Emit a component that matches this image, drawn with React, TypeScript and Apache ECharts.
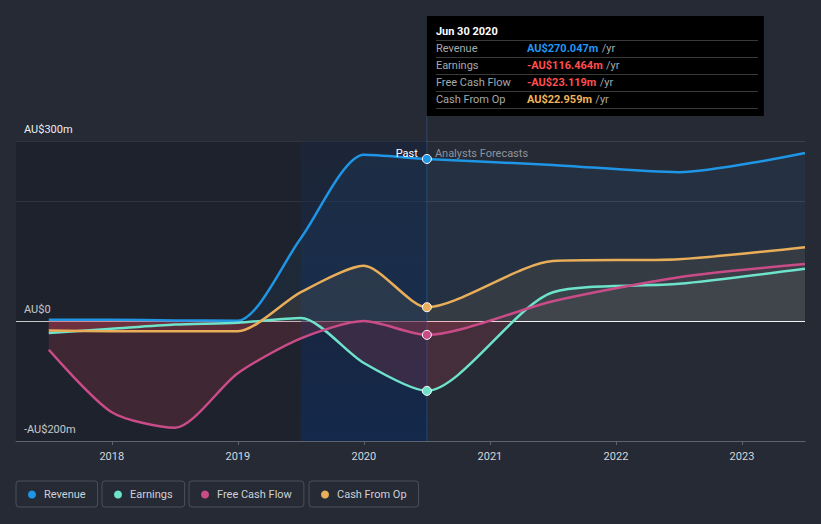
import React, { useEffect, useRef } from 'react';
import * as echarts from 'echarts';

// ---- data ----
const years = [2017.5, 2018, 2018.5, 2019, 2019.5, 2020, 2020.5, 2021.5, 2022.5, 2023.5];
const revenue = [2, 2, 1, 0.5, 138, 277, 270.047, 260, 248, 280];
const earnings = [-20, -13, -6, -3, 5, -70, -116.464, 48, 62, 87];
const freeCashFlow = [-48, -152, -178, -87, -29, 0, -23.119, 33, 73, 95];
const cashFromOp = [-16, -17, -17, -17, 48, 92, 22.959, 100, 103, 123];

const seriesNames = ['Revenue', 'Earnings', 'Free Cash Flow', 'Cash From Op'];
const seriesValues = [revenue, earnings, freeCashFlow, cashFromOp];
const xTickYears = [2018, 2019, 2020, 2021, 2022, 2023];
const yTickLabels = [300, 0, -200];
const tooltipDate = 'Jun 30 2020';
const pastEnd = 2020.5;
const highlightStart = 2019.5;
const xMin = 2017.24;
const xMax = 2023.5;
const yMin = -200;
const yMax = 300;

// ---- styles ----
const lineColors = ['#1f95e6', '#6ee3cb', '#c94c88', '#e9ae5a'];
const posFill = ['rgba(33,150,243,0.09)', 'rgba(110,227,203,0.07)', 'rgba(201,76,136,0.07)', 'rgba(233,174,90,0.12)'];
const negFill = 'rgba(215,66,86,0.25)';
const valueColors = ['#2196f3', '#ff4f4f', '#ff4f4f', '#f0b35a'];
const legendLefts = [16, 102, 189, 309];
const BG = '#252a35';
const W = 821;
const H = 524;
const GRID = { left: 16, right: 16, top: 141, bottom: 83 };
const FONT = 'Roboto, "Open Sans", sans-serif';

const fmtMoney = (v: number, digits = 0) =>
  (v < 0 ? '-' : '') + 'AU$' + (digits ? Math.abs(v).toFixed(digits) : String(Math.abs(v))) + (v === 0 && !digits ? '' : 'm');

export default function App() {
  const ref = useRef<HTMLDivElement>(null);

  useEffect(() => {
    if (!ref.current) return;
    const chart = echarts.init(ref.current, null, { renderer: 'svg' });
    const pastIdx = years.indexOf(pastEnd);
    const gTop = GRID.top;
    const gBot = H - GRID.bottom;
    const zeroFrac = (yMax - 0) / (yMax - yMin);

    const areaGrad = (i: number) => ({
      type: 'linear',
      x: 0,
      y: gTop,
      x2: 0,
      y2: gBot,
      global: true,
      colorStops: [
        { offset: 0, color: posFill[i] },
        { offset: zeroFrac, color: posFill[i] },
        { offset: zeroFrac, color: negFill },
        { offset: 1, color: negFill },
      ],
    });

    const series: any[] = seriesNames.map((name, i) => ({
      name,
      type: 'line',
      smooth: 0.25,
      symbol: 'none',
      showSymbol: true,
      lineStyle: { color: lineColors[i], width: 2.5 },
      itemStyle: { color: lineColors[i] },
      areaStyle: { color: areaGrad(i), origin: 0 },
      emphasis: { disabled: true },
      data: years.map((x, k) =>
        k === pastIdx
          ? {
              value: [x, seriesValues[i][k]],
              symbol: 'circle',
              symbolSize: 9,
              itemStyle: { color: lineColors[i], borderColor: '#ffffff', borderWidth: 1 },
            }
          : [x, seriesValues[i][k]]
      ),
      z: 3,
    }));

    // background bands (past region + highlighted year)
    series[0].markArea = {
      silent: true,
      z: 1,
      data: [
        [
          { xAxis: xMin, itemStyle: { color: 'rgba(0,0,0,0.17)' } },
          { xAxis: highlightStart },
        ],
        [
          {
            xAxis: highlightStart,
            itemStyle: {
              color: {
                type: 'linear',
                x: 0,
                y: 0,
                x2: 0,
                y2: 1,
                colorStops: [
                  { offset: 0, color: 'rgba(18,32,58,0.45)' },
                  { offset: 1, color: 'rgba(12,40,85,0.7)' },
                ],
              },
            },
          },
          { xAxis: pastEnd },
        ],
      ],
    };

    const option: any = {
      animation: false,
      backgroundColor: BG,
      textStyle: { fontFamily: FONT },
      grid: { ...GRID, containLabel: false },
      xAxis: {
        type: 'value',
        min: xMin,
        max: xMax,
        splitLine: { show: false },
        axisLine: { onZero: false, lineStyle: { color: '#5d6470', width: 1 } },
        axisTick: { show: true, customValues: xTickYears, length: 4, lineStyle: { color: '#5d6470' } },
        axisLabel: {
          customValues: xTickYears,
          color: '#d4d7dc',
          fontSize: 11,
          margin: 10,
          formatter: (v: number) => String(v),
        },
      },
      yAxis: {
        type: 'value',
        min: yMin,
        max: yMax,
        interval: 100,
        axisLine: { show: false },
        axisTick: { show: false },
        splitLine: {
          show: true,
          lineStyle: {
            color: ['rgba(0,0,0,0)', 'rgba(0,0,0,0)', '#f2f2f2', 'rgba(0,0,0,0)', '#3a3f4a', '#3a3f4a'],
            width: 1,
          },
        },
        axisLabel: {
          inside: true,
          customValues: yTickLabels,
          margin: 8,
          verticalAlign: 'bottom',
          padding: [0, 0, 6, 0],
          color: '#eceef0',
          fontSize: 11,
          formatter: (v: number) => fmtMoney(v),
        },
      },
      legend: seriesNames.map((name, i) => ({
        data: [name],
        left: legendLefts[i],
        top: 481,
        icon: 'circle',
        itemWidth: 8,
        itemHeight: 8,
        itemGap: 0,
        padding: [8, 12, 7, 12],
        borderColor: '#4a505c',
        borderWidth: 1,
        borderRadius: 3,
        textStyle: { color: '#cdd1d7', fontSize: 11, fontFamily: FONT, padding: [0, 0, 0, 3] },
      })),
      series,
    };

    chart.setOption(option);

    const px = chart.convertToPixel({ xAxisIndex: 0 }, pastEnd) as number;
    const topY = chart.convertToPixel({ yAxisIndex: 0 }, yMax) as number;
    const botY = chart.convertToPixel({ yAxisIndex: 0 }, yMin) as number;
    const tipTop = 16;
    const tipH = 100;
    const rowY = [32, 49, 66, 83];
    const sepY = [24.5, 41.5, 58.5, 75.5, 92.5];

    const tipChildren: any[] = [
      { type: 'rect', shape: { x: 0, y: 0, width: 337, height: tipH }, style: { fill: '#000000' } },
      {
        type: 'text',
        x: 9,
        y: 15,
        style: { text: tooltipDate, fill: '#ffffff', font: `bold 11px ${FONT}`, verticalAlign: 'middle' },
      },
      ...sepY.map((y) => ({
        type: 'line',
        shape: { x1: 9, y1: y, x2: 331, y2: y },
        style: { stroke: '#3a3a3a', lineWidth: 1 },
      })),
      ...seriesNames.map((name, i) => ({
        type: 'text',
        x: 9,
        y: rowY[i],
        style: { text: name, fill: '#a6a9ad', font: `11px ${FONT}`, verticalAlign: 'middle' },
      })),
      ...seriesNames.map((name, i) => ({
        type: 'text',
        x: 100,
        y: rowY[i],
        style: {
          text: `{v|${fmtMoney(seriesValues[i][pastIdx], 3)}} {u|/yr}`,
          verticalAlign: 'middle',
          rich: {
            v: { fill: valueColors[i], font: `bold 11px ${FONT}` },
            u: { fill: '#a6a9ad', font: `11px ${FONT}` },
          },
        },
      })),
    ];

    chart.setOption({
      graphic: [
        {
          type: 'line',
          shape: { x1: px, y1: tipTop + tipH, x2: px, y2: botY },
          style: { stroke: 'rgba(60,120,200,0.35)', lineWidth: 1 },
          z: 2,
          silent: true,
        },
        {
          type: 'text',
          x: px - 9,
          y: topY + 12,
          style: { text: 'Past', fill: '#ffffff', font: `11px ${FONT}`, align: 'right', verticalAlign: 'middle' },
          z: 10,
        },
        {
          type: 'text',
          x: px + 8,
          y: topY + 12,
          style: { text: 'Analysts Forecasts', fill: '#8e949c', font: `11px ${FONT}`, align: 'left', verticalAlign: 'middle' },
          z: 10,
        },
        { type: 'group', x: px, y: tipTop, z: 20, children: tipChildren },
      ],
    });

    return () => chart.dispose();
  }, []);

  return <div ref={ref} style={{ position: 'absolute', left: 0, top: 0, width: W, height: H }} />;
}
